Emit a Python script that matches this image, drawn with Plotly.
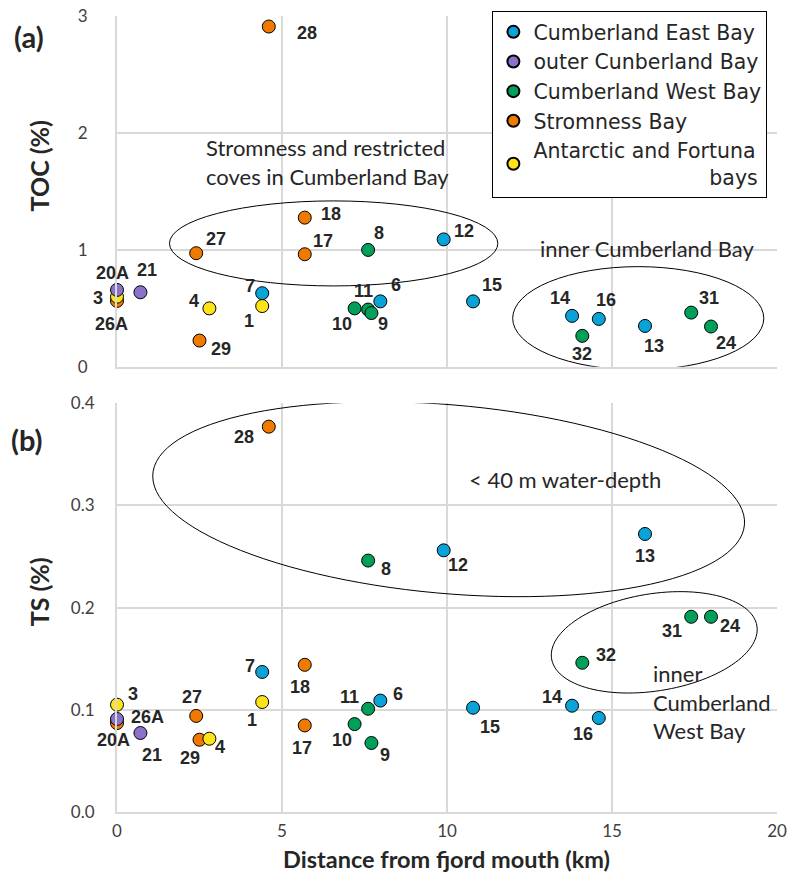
import numpy as np
import plotly.graph_objects as go

# ---------------- data ----------------
group_names = ["Cumberland East Bay", "outer Cunberland Bay", "Cumberland West Bay",
               "Stromness Bay", "Antarctic and Fortuna bays"]
group_colors = ["#0aa3d8", "#8a72c8", "#00a05a", "#f07a00", "#ffe31a"]

east_ids = ["7", "6", "12", "15", "14", "16", "13"]
east_dist = [4.4, 7.98, 9.9, 10.79, 13.79, 14.6, 16.0]
east_toc = [0.63, 0.56, 1.09, 0.56, 0.436, 0.41, 0.35]
east_ts = [0.137, 0.109, 0.256, 0.102, 0.104, 0.092, 0.272]

outer_ids = ["20A", "21"]
outer_dist = [0.0, 0.71]
outer_toc = [0.658, 0.638]
outer_ts = [0.091, 0.0773]

west_ids = ["8", "10", "11", "9", "32", "31", "24"]
west_dist = [7.61, 7.2, 7.61, 7.71, 14.1, 17.4, 18.0]
west_toc = [1.0, 0.50, 0.49, 0.46, 0.265, 0.464, 0.345]
west_ts = [0.246, 0.086, 0.101, 0.0675, 0.146, 0.191, 0.191]

strom_ids = ["28", "18", "17", "27", "26A", "29"]
strom_dist = [4.6, 5.69, 5.69, 2.4, 0.0, 2.5]
strom_toc = [2.91, 1.276, 0.963, 0.972, 0.564, 0.225]
strom_ts = [0.377, 0.144, 0.0847, 0.094, 0.087, 0.0707]

ant_ids = ["3", "4", "1"]
ant_dist = [0.0, 2.8, 4.4]
ant_toc = [0.60, 0.50, 0.52]
ant_ts = [0.105, 0.0717, 0.1076]

x_ticks = [0, 5, 10, 15, 20]
toc_ticks = [0, 1, 2, 3]
ts_ticks = [0.0, 0.1, 0.2, 0.3, 0.4]
ts_tick_text = ["0.0", "0.1", "0.2", "0.3", "0.4"]

groups = [
    (east_ids, east_dist, east_toc, east_ts),
    (outer_ids, outer_dist, outer_toc, outer_ts),
    (west_ids, west_dist, west_toc, west_ts),
    (strom_ids, strom_dist, strom_toc, strom_ts),
    (ant_ids, ant_dist, ant_toc, ant_ts),
]

# ---------------- label placement (screen px: dx right, dy down) ----------------
top_offsets = {
    "28": (38, 6), "18": (26, -4), "17": (18, -13), "27": (20, -14), "8": (11, -17),
    "12": (20, -8), "20A": (-5, -17), "21": (7, -22), "3": (-19, 1), "26A": (-6, 23),
    "4": (-15, -7), "29": (21, 8), "7": (-12, -7), "1": (-13, 15), "11": (-5, -19),
    "6": (16, -16), "10": (-13, 16), "9": (12, 11), "15": (19, -16), "14": (-12, -18),
    "16": (7, -19), "32": (0, 18), "13": (9, 20), "31": (18, -15), "24": (15, 16),
}
bot_offsets = {
    "28": (-25, 10), "8": (18, 8), "12": (14, 15), "13": (0, 22), "31": (-19, 14),
    "24": (19, 9), "32": (24, -8), "14": (-20, -9), "16": (-16, 16), "15": (17, 19),
    "6": (18, -7), "11": (-19, -12), "10": (-13, 16), "9": (14, 12), "18": (-5, 22),
    "17": (-3, 23), "7": (-12, -6), "1": (-10, 18), "27": (-4, -19), "29": (-10, 18),
    "4": (11, 8), "3": (16, -11), "26A": (30, -6), "20A": (-4, 21), "21": (12, 22),
}

fig = go.Figure()

draw_order = [0, 2, 3, 4, 1]
for gi in draw_order:
    ids, dist, toc, ts = groups[gi]
    name = group_names[gi]
    if gi == 4:
        name = "Antarctic and Fortuna<br>" + "\u00a0" * 27 + "bays"
    marker = dict(size=13, color=group_colors[gi], line=dict(color="black", width=1))
    fig.add_trace(go.Scatter(x=dist, y=toc, mode="markers", marker=marker, name=name,
                             legendrank=gi + 1, legendgroup=str(gi), cliponaxis=False,
                             xaxis="x", yaxis="y"))
    fig.add_trace(go.Scatter(x=dist, y=ts, mode="markers", marker=marker, name=name,
                             showlegend=False, legendgroup=str(gi), cliponaxis=False,
                             xaxis="x2", yaxis="y2"))

annotations = []
lab_font = dict(family="Liberation Sans", size=18, color="#262626", weight="bold")
for ids, dist, toc, ts in groups:
    for sid, xv, yt, yb in zip(ids, dist, toc, ts):
        dx, dy = top_offsets[sid]
        annotations.append(dict(x=xv, y=yt, xref="x", yref="y", text=sid, showarrow=False,
                                xshift=dx, yshift=-dy, font=lab_font))
        dx, dy = bot_offsets[sid]
        annotations.append(dict(x=xv, y=yb, xref="x2", yref="y2", text=sid, showarrow=False,
                                xshift=dx, yshift=-dy, font=lab_font))

cal = "Lato"
note_font = dict(family=cal, size=22, color="#262626")
annotations += [
    dict(x=2.65, y=1.75, xref="x", yref="y", xanchor="left", align="left", showarrow=False,
         text="Stromness and restricted<br>coves in Cumberland Bay", font=note_font),
    dict(x=12.75, y=1.01, xref="x", yref="y", xanchor="left", showarrow=False,
         text="inner Cumberland Bay", font=note_font),
    dict(x=10.6, y=0.325, xref="x2", yref="y2", xanchor="left", showarrow=False,
         text="< 40 m water-depth", font=note_font),
    dict(x=16.17, y=0.108, xref="x2", yref="y2", xanchor="left", align="left", showarrow=False,
         text="inner<br>Cumberland<br>West Bay", font=note_font),
]

# page body margin is removed by a post script, so the figure fills the window
W, H = 787, 872
ml, mr, mt, mb = 116.5, 10.3, 16, 59.7
pw, ph = W - ml - mr, H - mt - mb
def px(xp): return (xp - ml) / pw
def py(yp): return (H - mb - yp) / ph

bold_cal = dict(family=cal, size=29, color="#262626", weight="bold")
title_font = dict(family=cal, size=25, color="#262626", weight="bold")
annotations += [
    dict(x=px(28), y=py(37), text="(a)", font=bold_cal),
    dict(x=px(26), y=py(440), text="(b)", font=bold_cal),
    dict(x=px(38), y=py(166), text="TOC (%)", textangle=-90, font=title_font),
    dict(x=px(38), y=py(592), text="TS (%)", textangle=-90, font=title_font),
    dict(x=px(446), y=py(859), text="Distance from fjord mouth (km)",
         font=dict(family=cal, size=23.5, color="#262626", weight="bold")),
]
for a in annotations[-5:]:
    a.update(xref="paper", yref="paper", xanchor="center", yanchor="middle", showarrow=False)

# ellipses
shapes = [
    dict(type="circle", xref="x", yref="y", x0=1.59, x1=11.54, y0=0.692, y1=1.419,
         line=dict(color="black", width=1)),
    dict(type="circle", xref="x", yref="y", x0=11.99, x1=19.6, y0=-0.026, y1=0.857,
         line=dict(color="black", width=1)),
]
kx, ky = pw / 20.0, 409.0 / 0.4  # px per data unit for the lower panel
def ellipse_path(cx, cy, a, b, theta_deg, n=120):
    th = np.radians(theta_deg)
    t = np.linspace(0, 2 * np.pi, n)
    dxp = a * np.cos(t) * np.cos(th) - b * np.sin(t) * np.sin(th)
    dyp = a * np.cos(t) * np.sin(th) + b * np.sin(t) * np.cos(th)
    xs = cx + dxp / kx
    ys = cy - dyp / ky
    pts = [f"{x:.4f},{y:.5f}" for x, y in zip(xs, ys)]
    return "M" + " L".join(pts) + " Z"

shapes += [
    dict(type="path", xref="x2", yref="y2", path=ellipse_path(10.05, 0.306, 297, 94.4, 4.96),
         line=dict(color="black", width=1)),
    dict(type="path", xref="x2", yref="y2", path=ellipse_path(16.28, 0.166, 104, 48.6, -9.08),
         line=dict(color="black", width=1)),
]

grid = "#d9d9d9"
tick_font = dict(family=cal, size=17, color="#404040")
top_dom = [py(367), 1.0]
bot_dom = [0.0, py(403.3)]

axis_common = dict(showgrid=True, gridcolor=grid, gridwidth=2, showline=True, linecolor=grid,
                   linewidth=2, zeroline=False, ticks="", tickfont=tick_font, automargin=False,
                   ticklabeloverflow="allow")

fig.update_layout(
    template="none",
    width=W, height=H,
    margin=dict(l=ml, r=mr, t=mt, b=mb, autoexpand=False),
    paper_bgcolor="white", plot_bgcolor="white",
    showlegend=True,
    legend=dict(x=px(492), y=py(11), xanchor="left", yanchor="top",
                bgcolor="white", bordercolor="black", borderwidth=1,
                font=dict(family="DejaVu Sans", size=20.5, color="#262626"),
                tracegroupgap=0, itemsizing="constant"),
    xaxis=dict(domain=[0, 1], range=[0, 20], tickvals=x_ticks, showticklabels=False,
               anchor="y", **axis_common),
    yaxis=dict(domain=top_dom, range=[0, 3], tickvals=toc_ticks, anchor="x",
               ticklabelstandoff=24, **axis_common),
    xaxis2=dict(domain=[0, 1], range=[0, 20], tickvals=x_ticks, anchor="y2",
                ticklabelstandoff=3, **axis_common),
    yaxis2=dict(domain=bot_dom, range=[0, 0.4], tickvals=ts_ticks, ticktext=ts_tick_text,
                anchor="x2", ticklabelstandoff=17, **axis_common),
    annotations=annotations,
    shapes=shapes,
)

fig.write_html("out.html", config={"displayModeBar": False},
               post_script="document.body.style.margin='0';document.body.style.overflow='hidden';")
